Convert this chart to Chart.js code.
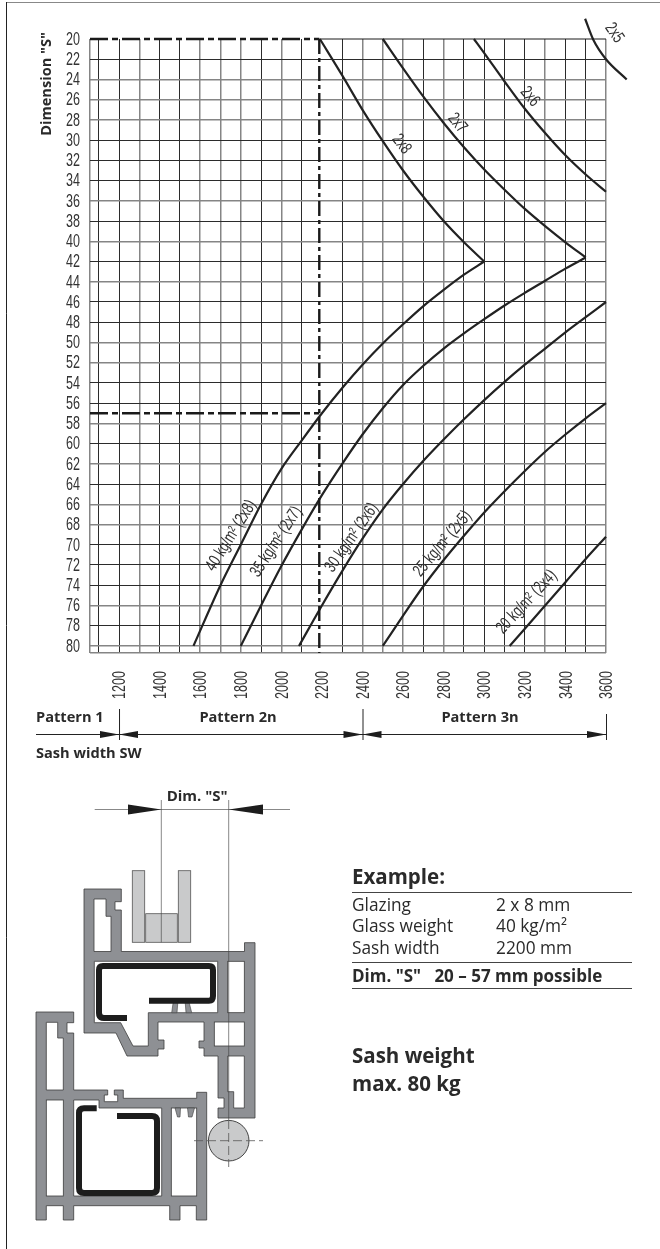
<!DOCTYPE html>
<html>
<head>
<meta charset="utf-8">
<title>Dimension S</title>
<script src="https://cdn.jsdelivr.net/npm/chart.js@4"></script>
<style>
  html, body { margin: 0; background: #fff; }
  #page { position: relative; width: 660px; height: 1249px; overflow: hidden; font-family: "Open Sans", sans-serif; color: #2a2a2a; }
  #page canvas, #page svg { position: absolute; left: 0; top: 0; }
  .t { position: absolute; white-space: nowrap; line-height: 1; }
  .b { font-weight: 700; }
  .rule { position: absolute; left: 352px; width: 280px; height: 1px; background: #444; }
</style>
</head>
<body>
<div id="page">
  <canvas id="chart" width="660" height="1249"></canvas>

  <!-- section drawing below the chart -->
  <svg width="660" height="1249" viewBox="0 0 660 1249">
    <g fill="#c9cacb" stroke="#555" stroke-width=".8">
      <rect x="132.3" y="870.7" width="12.4" height="71.6"/>
      <rect x="178.3" y="870.7" width="12.4" height="71.6"/>
      <rect x="145.7" y="913.7" width="31.6" height="28.6"/>
    </g>
    <g fill="#8e9094" stroke="#3c3c3c" stroke-width=".8">
      <path d="M84 889H121.3V901.7H115V910H121.3V951.5H244.5V942.7H255V1118H218V1108H224V1098H218V1056H204V1048H199V1041H204V1022H158V1040H164V1049H158V1056H127L116 1033H84Z"/>
      <path d="M36 1012H73.7V1022.7H67V1033H73.7V1090H107.7V1095H104.3V1101.7H117.7V1095H114.3V1090H123.3V1098.3H196.7V1092.3H206.7V1220H196.3V1205.7H180V1220H169.7V1205.7H73.7V1220H63.3V1205.7H46.3V1220H36Z"/>
    </g>
    <g fill="#fff" stroke="#3c3c3c" stroke-width=".8">
      <path d="M94 899H106V916.3H111V951.5H94Z"/>
      <path d="M94.3 961.3H217.7V1012.7H148.3V1046H133L120.7 1022.7H94.3Z"/>
      <rect x="227.7" y="961.3" width="16.6" height="51.4"/>
      <rect x="214.3" y="1022" width="30" height="24"/>
      <path d="M227.7 1056H244.3V1108H233.7V1091.7H227.7Z"/>
      <path d="M46.3 1022.3H57.7V1038H63.3V1090H46.3Z"/>
      <rect x="46.3" y="1100" width="17" height="96"/>
      <path d="M73.7 1100H99V1108H161.7V1196H73.7Z"/>
      <rect x="171.3" y="1108" width="25.4" height="88"/>
    </g>
    <g fill="#8e9094" stroke="#3c3c3c" stroke-width=".6">
      <path d="M173.5 1000L171.7 1012.7H177L178 1000Z"/>
      <path d="M185 1000L186 1012.7H191.7L188.5 1000Z"/>
      <path d="M175 1108L177.5 1117H180L180.5 1108Z"/>
      <path d="M187.5 1108L188.5 1117H192L194.5 1108Z"/>
    </g>
    <g fill="none" stroke="#1d1d1d" stroke-width="6">
      <path d="M149 1000.7H209Q213 1000.7 213 996V970Q213 966 209 966H103Q99 966 99 970V1013Q99 1018 104 1018H127"/>
      <path d="M96.7 1108.3H84Q79 1108.3 79 1113V1188Q79 1193 84 1193H152Q157 1193 157 1188V1121Q157 1116 152 1116H117"/>
    </g>
    <circle cx="228.7" cy="1140.7" r="20.3" fill="#c9cacb" stroke="#333" stroke-width=".9"/>
    <g stroke="#555" stroke-width=".8" fill="none">
      <path d="M194 1140.7H263" stroke-dasharray="9 4"/>
      <path d="M228.7 1120V1167" stroke-dasharray="9 4"/>
    </g>
    <g stroke="#444" stroke-opacity=".8" stroke-width=".8" fill="none">
      <path d="M161.3 800V942.3"/>
      <path d="M228.7 800V1120"/>
      <path d="M94.7 809.5H290"/>
    </g>
    <path d="M128 804.5L161.3 809.5L128 814.5Z M263 804.5L228.7 809.5L263 814.5Z" fill="#1d1d1d"/>
  </svg>

  <div class="t b" style="left:166.7px;top:788px;font-size:15px">Dim. "S"</div>

  <div class="t b" style="left:352px;top:866px;font-size:20.5px">Example:</div>
  <div class="rule" style="top:892px"></div>
  <div class="t" style="left:352px;top:896px;font-size:17.3px">Glazing</div>
  <div class="t" style="left:496px;top:896px;font-size:17.3px">2 x 8 mm</div>
  <div class="t" style="left:352px;top:917px;font-size:17.3px">Glass weight</div>
  <div class="t" style="left:496px;top:917px;font-size:17.3px">40 kg/m²</div>
  <div class="t" style="left:352px;top:939px;font-size:17.3px">Sash width</div>
  <div class="t" style="left:496px;top:939px;font-size:17.3px">2200 mm</div>
  <div class="rule" style="top:962px"></div>
  <div class="t b" style="left:352px;top:967px;font-size:17px;white-space:pre">Dim. "S"   20 – 57 mm possible</div>
  <div class="rule" style="top:988px"></div>
  <div class="t b" style="left:352px;top:1045px;font-size:20.5px">Sash weight</div>
  <div class="t b" style="left:352px;top:1073px;font-size:20.5px">max. 80 kg</div>
</div>

<script>
/* ---------- data ---------- */
const xGrid = [1057,1100,1200,1300,1400,1500,1600,1700,1800,1900,2000,2100,2300,2400,2500,2600,2700,2800,2900,3000,3100,3200,3300,3400,3500,3600];
const yGrid = [22,24,26,28,30,32,34,36,38,40,42,44,46,48,50,52,54,56,58,60,62,64,66,68,70,72,74,76,78,80,80.7];
const xTickLabels = [1200,1400,1600,1800,2000,2200,2400,2600,2800,3000,3200,3400,3600];
const yTickLabels = [20,22,24,26,28,30,32,34,36,38,40,42,44,46,48,50,52,54,56,58,60,62,64,66,68,70,72,74,76,78,80];

/* glass curves, lower family (kg/m2) */
const w40 = [1567,1700,1800,1900,2000,2100,2200,2300,2400,2500,2600,2700,2800,2900,3000];
const s40 = [80,74,70,66,62.5,59.7,57,54.5,52.2,50.1,48.2,46.4,44.8,43.3,42];
const w35 = [1800,1900,2000,2100,2200,2300,2400,2500,2600,2700,2800,2900,3000,3100,3200,3300,3400,3500];
const s35 = [80,76,72.1,68.5,65.1,62,59.1,56.5,54.2,52.3,50.6,49.1,47.7,46.35,45.1,43.9,42.7,41.6];
const w30 = [2087,2200,2300,2400,2500,2600,2700,2800,2900,3000,3100,3200,3300,3400,3500,3600];
const s30 = [80,76,72.6,69.4,66.5,64,61.7,59.6,57.6,55.7,53.9,52.2,50.6,49,47.5,46];
const w25 = [2500,2600,2700,2800,2900,3000,3100,3200,3300,3400,3500,3600];
const s25 = [80,77,74.1,71.5,69.1,66.8,64.7,62.7,60.8,59.1,57.5,56];
const w20 = [3125,3200,3300,3400,3500,3600];
const s20 = [80,78.3,76,73.7,71.4,69.2];

/* glazing curves, upper family */
const w2x8 = [2190,2300,2400,2500,2600,2700,2800,2900,3000];
const s2x8 = [20,23.6,27,30.1,33,35.6,38,40.1,42];
const w2x7 = [2500,2600,2700,2800,2900,3000,3100,3200,3300,3400,3500];
const s2x7 = [20,22.9,25.7,28.3,30.7,32.9,34.9,36.8,38.5,40.1,41.6];
const w2x6 = [2949,3000,3100,3200,3300,3400,3500,3600];
const s2x6 = [20,21.4,24.2,26.9,29.3,31.5,33.4,35.1];
const w2x5 = [3497,3538,3600,3702];
const s2x5 = [18,20.1,22,24];

/* worked example */
const exampleWidth = 2187;
const exampleTop = 20;
const exampleDim = 57;

/* curve captions: text, x value, y value, angle */
const captionText  = ["2x8","2x7","2x6","2x5","40 kg/m² (2x8)","35 kg/m² (2x7)","30 kg/m² (2x6)","25 kg/m² (2x5)","20 kg/m² (2x4)"];
const captionX     = [2592,2867,3225,3640,1753,1975,2347,2794,3209];
const captionY     = [30.4,28.3,25.7,19.4,69.1,69.7,69.3,69.9,75.65];
const captionAngle = [52,50,50,55,-58,-57,-55,-50,-47];

/* pattern ranges under the x axis */
const patternNames = ["Pattern 1","Pattern 2n","Pattern 3n"];
const patternStops = [1200,2400,3600];

/* gridlines that come out soft grey in the print */
const softX = [1300,1600,1700,1800,2000,2400,2500,2600,2800,3300,3600,1057];
const softY = [24,26,28,36,40,44,50,52,58,62,66,68,76,80,80.7];

/* ---------- helpers ---------- */
const xMin = xGrid[0], xMax = xGrid[xGrid.length - 1];
const yMax = yGrid[yGrid.length - 1];
const pts = (xs, ys) => xs.map((x, i) => ({x, y: ys[i]}));
const curve = (xs, ys) => ({data: pts(xs, ys), borderColor: "#222", borderWidth: 2.2, pointRadius: 0, cubicInterpolationMode: "monotone", clip: false});
const refLine = (xs, ys, dash, w) => ({data: pts(xs, ys), borderColor: "#1a1a1a", borderWidth: w, pointRadius: 0, tension: 0, borderDash: dash, clip: false});

const SANS = '"Liberation Sans", sans-serif';
const BOLD = '700 14.6px "Open Sans", sans-serif';

/* condensed text: the print uses a narrow face, so squeeze a regular one */
function narrowText(ctx, txt, px, py, angle, size, squeeze, align) {
  ctx.save();
  ctx.translate(px, py);
  ctx.rotate(angle);
  ctx.scale(squeeze, 1);
  ctx.font = size + "px " + SANS;
  ctx.fillStyle = "#333";
  ctx.textAlign = align;
  ctx.textBaseline = "middle";
  ctx.fillText(txt, 0, 0);
  ctx.restore();
}

/* ---------- tick labels, captions, pattern row, frame ---------- */
const extras = {
  id: "extras",
  afterDatasetsDraw(chart) {
    const {ctx, scales: {x, y}} = chart;
    ctx.save();

    yTickLabels.forEach(v => narrowText(ctx, String(v), 80, y.getPixelForValue(v) + .5, 0, 19, .66, "right"));
    xTickLabels.forEach(v => narrowText(ctx, String(v), x.getPixelForValue(v) + 1, 671, -Math.PI / 2, 19, .66, "right"));

    captionText.forEach((txt, i) =>
      narrowText(ctx, txt, x.getPixelForValue(captionX[i]), y.getPixelForValue(captionY[i]),
                 captionAngle[i] * Math.PI / 180, 17.5, .71, "center"));

    /* y axis title */
    ctx.save();
    ctx.translate(47, 84);
    ctx.rotate(-Math.PI / 2);
    ctx.font = BOLD;
    ctx.fillStyle = "#2a2a2a";
    ctx.textAlign = "center";
    ctx.textBaseline = "middle";
    ctx.fillText('Dimension "S"', 0, 0);
    ctx.restore();

    /* pattern row */
    const rowY = 734.5;
    const stops = patternStops.map(v => x.getPixelForValue(v));
    ctx.strokeStyle = "#222";
    ctx.lineWidth = 1;
    ctx.beginPath();
    ctx.moveTo(36, rowY); ctx.lineTo(stops[2], rowY);
    stops.forEach((px, i) => { ctx.moveTo(px + .5, i === 2 ? 714 : 709); ctx.lineTo(px + .5, 740); });
    ctx.stroke();
    ctx.fillStyle = "#1d1d1d";
    const arrow = (tip, dir) => {
      ctx.beginPath();
      ctx.moveTo(tip, rowY);
      ctx.lineTo(tip + dir * 19, rowY - 3.5);
      ctx.lineTo(tip + dir * 19, rowY + 3.5);
      ctx.closePath();
      ctx.fill();
    };
    stops.forEach((px, i) => { arrow(px, -1); if (i < 2) arrow(px, 1); });

    ctx.font = BOLD;
    ctx.fillStyle = "#2a2a2a";
    ctx.textBaseline = "middle";
    ctx.textAlign = "left";
    ctx.fillText(patternNames[0], 36, 718);
    ctx.textAlign = "center";
    ctx.fillText(patternNames[1], 238, 718);
    ctx.fillText(patternNames[2], 480, 718);
    ctx.textAlign = "left";
    ctx.fillText("Sash width SW", 36, 754);

    /* page frame */
    ctx.strokeStyle = "#888";
    ctx.beginPath(); ctx.moveTo(6, 2.5); ctx.lineTo(660, 2.5); ctx.stroke();
    ctx.strokeStyle = "#222";
    ctx.beginPath(); ctx.moveTo(6.5, 2); ctx.lineTo(6.5, 1249); ctx.stroke();
    ctx.restore();
  }
};

const gridStyle = soft => ({
  drawTicks: false,
  color: c => soft.includes(c.tick.value) ? "#858585" : "#2b2b2b",
  lineWidth: c => soft.includes(c.tick.value) ? 1.5 : 1
});

new Chart(document.getElementById("chart"), {
  type: "line",
  data: {
    datasets: [
      refLine([xMin, exampleWidth], [exampleTop, exampleTop], [18, 4, 6, 4], 2.4),
      refLine([exampleWidth, xMax], [exampleTop, exampleTop], [], 1),
      refLine([xMin, exampleWidth], [exampleDim, exampleDim], [18, 4, 6, 4], 2.4),
      refLine([exampleWidth, exampleWidth], [exampleTop, yMax], [15, 4, 4, 4], 2.4),
      curve(w40, s40), curve(w35, s35), curve(w30, s30), curve(w25, s25), curve(w20, s20),
      curve(w2x8, s2x8), curve(w2x7, s2x7), curve(w2x6, s2x6), curve(w2x5, s2x5)
    ]
  },
  options: {
    responsive: false,
    animation: false,
    devicePixelRatio: 1,
    layout: {padding: {top: 39, right: 54, left: 0, bottom: 0}},
    plugins: {legend: {display: false}, tooltip: {enabled: false}},
    scales: {
      x: {
        type: "linear",
        /* bounds set here, not in min/max, so the 2x5 curve may run past the right edge */
        afterBuildTicks: s => { s.ticks = xGrid.map(value => ({value})); s.min = xMin; s.max = xMax; },
        afterFit: s => { s.height = 596; },
        border: {display: false},
        grid: gridStyle(softX),
        ticks: {display: false}
      },
      y: {
        type: "linear",
        reverse: true,
        min: exampleTop,
        max: yMax,
        afterBuildTicks: s => { s.ticks = yGrid.map(value => ({value})); },
        afterFit: s => { s.width = 90; },
        border: {display: false},
        grid: gridStyle(softY),
        ticks: {display: false}
      }
    }
  },
  plugins: [extras]
});
</script>
</body>
</html>
